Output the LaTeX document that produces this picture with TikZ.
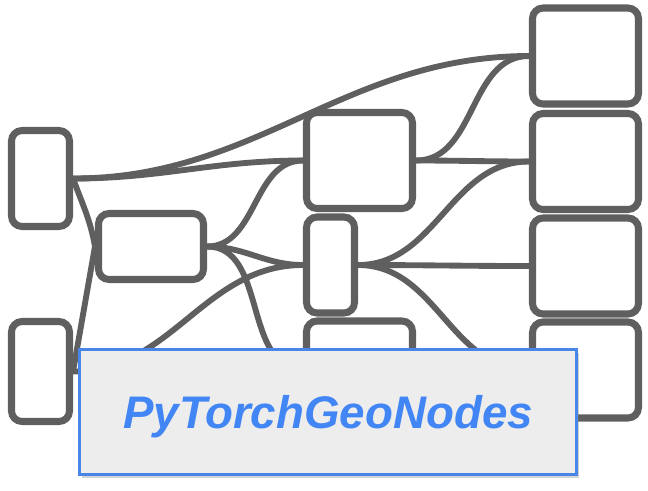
\documentclass[tikz,border=0pt]{standalone}
\usepackage{fontspec}
\setsansfont{Liberation Sans}
\usepackage{xcolor}
\usepackage{tikz}
\usetikzlibrary{positioning, backgrounds, shadows}
\definecolor{wire}{HTML}{5F5F5F}
\definecolor{titleblue}{HTML}{4A86E8}
\definecolor{textblue}{HTML}{4285F4}
\definecolor{titlegray}{HTML}{EDEDED}
\tikzstyle{box} = [draw=wire, line width=6pt, fill=white, rounded corners=9pt, inner sep=0pt, minimum width=3.18cm, minimum height=2.88cm]
\tikzstyle{link} = [draw=wire, line width=5pt, out=0, in=180]

\begin{document}
\begin{tikzpicture}[x=0.03cm, y=-0.03cm]
    \useasboundingbox (0,0) rectangle (648,490);

    % Left column
    \node[box, minimum width=1.74cm] (L1) at (40.5,178.5) {};
    \node[box, minimum width=1.74cm, minimum height=3.0cm] (L2) at (40.5,371.5) {};
    \node[box, minimum width=3.15cm, minimum height=1.98cm] (M1) at (151,246.5) {};

    % Middle column
    \node[box] (C1) at (359.5,160.5) {};
    \node[box, minimum width=1.44cm] (C2) at (330.5,265) {};
    \node[box] (C3) at (359.5,369) {};

    % Right column
    \node[box] (R1) at (585.5,56) {};
    \node[box] (R2) at (585.5,161.5) {};
    \node[box] (R3) at (585.5,266) {};
    \node[box] (R4) at (585.5,370) {};

    % Links
    \begin{scope}[on background layer]
        \draw[link] (L1.east) to (R1.west);
        \draw[link] (L1.east) to (C1.west);
        \draw[link, out=-70, in=100] (L1.east) to (M1.west);
        \draw[link, out=80, in=-100] (L2.east) to (M1.west);
        \draw[link] (L2.east) to (C2.west);
        \draw[link] (M1.east) to (C1.west);
        \draw[link] (M1.east) to (C2.west);
        \draw[link] (M1.east) to (C3.west);
        \draw[link] (C1.east) to (R1.west);
        \draw[link] (C1.east) to (R2.west);
        \draw[link] (C2.east) to (R2.west);
        \draw[link] (C2.east) to (R3.west);
        \draw[link] (C2.east) to (R4.west);
    \end{scope}

    % Title
    \node[draw=titleblue, line width=2.5pt, fill=titlegray, minimum width=14.91cm, minimum height=3.75cm,
          drop shadow={shadow xshift=2pt, shadow yshift=-3pt, opacity=0.35},
          text=textblue, text depth=0pt, font=\sffamily\bfseries\itshape\fontsize{39}{45}\selectfont] (title) at (328,412) {PyTorchGeoNodes};
\end{tikzpicture}
\end{document}
